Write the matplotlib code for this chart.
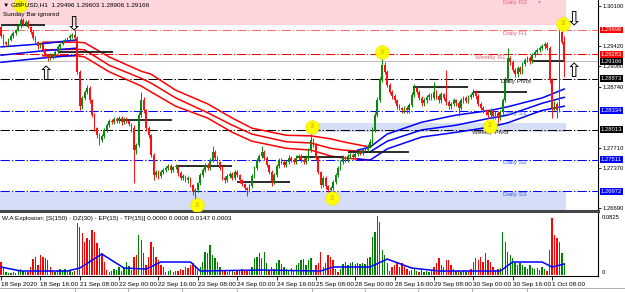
import matplotlib
matplotlib.use("Agg")
import matplotlib.pyplot as plt
from matplotlib.lines import Line2D

plt.rcParams['font.family'] = ['Liberation Sans', 'DejaVu Sans']

PIP = 1e-4

# GBPUSD H1 candles, prices in pips (12959 -> 1.2959); open of each bar = previous close
first_open = 12975
closes = [
    12959, 12949, 12946, 12953, 12959, 12964, 12969, 12976, 12986, 12980,
    12983, 12975, 12966, 12956, 12949, 12942, 12946, 12936, 12926, 12922,
    12927, 12924, 12932, 12941, 12946, 12949, 12953, 12956, 12959, 12961,
    12956, 12899, 12841, 12855, 12865, 12872, 12851, 12826, 12804, 12792,
    12784, 12791, 12801, 12809, 12816, 12814, 12819, 12816, 12821, 12814,
    12819, 12816, 12811, 12804, 12767, 12776, 12826, 12851, 12834, 12804,
    12792, 12759, 12725, 12730, 12723, 12730, 12733, 12737, 12740, 12733,
    12738, 12740, 12728, 12720, 12723, 12716, 12720, 12708, 12696, 12700,
    12711, 12725, 12733, 12742, 12737, 12750, 12764, 12754, 12747, 12737,
    12720, 12716, 12723, 12727, 12720, 12730, 12725, 12716, 12710, 12703,
    12700, 12706, 12723, 12737, 12750, 12757, 12764, 12754, 12742, 12730,
    12713, 12725, 12740, 12750, 12747, 12742, 12747, 12754, 12750, 12747,
    12754, 12757, 12750, 12747, 12754, 12767, 12784, 12776, 12754, 12730,
    12708, 12720, 12706, 12700, 12703, 12713, 12725, 12737, 12747, 12754,
    12750, 12757, 12759, 12755, 12760, 12764, 12762, 12767, 12767, 12774,
    12781, 12801, 12826, 12851, 12885, 12910, 12899, 12877, 12865, 12858,
    12851, 12841, 12838, 12834, 12838, 12834, 12843, 12860, 12872, 12865,
    12855, 12846, 12851, 12856, 12860, 12855, 12865, 12858, 12851, 12861,
    12855, 12848, 12841, 12845, 12851, 12846, 12838, 12851, 12855, 12850,
    12856, 12860, 12865, 12858, 12845, 12838, 12834, 12831, 12826, 12834,
    12824, 12830, 12821, 12831, 12851, 12885, 12922, 12915, 12902, 12895,
    12905, 12899, 12912, 12919, 12922, 12917, 12927, 12932, 12936, 12939,
    12942, 12946, 12939, 12885, 12838, 12845, 12834, 12966, 12950, 12917,
]
upper_wick = [
    5, 3, 2, 3, 4, 3, 3, 4, 4, 3,  3, 4, 2, 3, 3, 2, 4, 2, 3, 2,
    3, 2, 3, 3, 2, 3, 3, 2, 3, 4,  8, 4, 3, 4, 3, 5, 3, 2, 3, 2,
    3, 3, 4, 3, 3, 4, 3, 3, 4, 3,  3, 3, 3, 2, 5, 3, 6, 14, 5, 3,
    3, 2, 3, 3, 3, 4, 3, 3, 3, 3,  3, 3, 2, 3, 3, 2, 3, 2, 2, 3,
    3, 3, 4, 3, 4, 3, 10, 4, 3, 2,  3, 3, 3, 3, 3, 4, 3, 2, 3, 2,
    2, 3, 3, 4, 3, 4, 10, 3, 3, 2,  3, 4, 4, 3, 4, 3, 3, 4, 3, 3,
    4, 3, 3, 3, 4, 4, 20, 4, 3, 2,  2, 3, 3, 2, 3, 3, 4, 3, 3, 4,
    3, 3, 3, 3, 4, 3, 3, 4, 3, 4,  4, 5, 5, 6, 5, 12, 5, 3, 3, 4,
    3, 3, 3, 2, 3, 3, 4, 5, 6, 3,  3, 3, 4, 4, 3, 3, 17, 3, 3, 4,
    3, 47, 4, 3, 4, 3, 3, 4, 3, 3,  4, 4, 5, 3, 3, 3, 3, 3, 3, 4,
    3, 3, 3, 4, 4, 5, 17, 4, 4, 3,  4, 3, 4, 4, 4, 3, 4, 3, 4, 4,
    4, 3, 4, 3, 3, 4, 3, 6, 4, 10,
]
lower_wick = [
    3, 4, 3, 3, 2, 3, 3, 2, 3, 3,  3, 2, 3, 3, 3, 4, 3, 4, 3, 5,
    3, 3, 2, 3, 3, 2, 2, 3, 3, 3,  3, 4, 7, 5, 4, 3, 4, 4, 4, 4,
    8, 3, 3, 3, 3, 3, 3, 3, 3, 4,  3, 3, 3, 6, 56, 6, 4, 3, 4, 4,
    4, 4, 9, 4, 4, 3, 3, 3, 3, 4,  3, 3, 4, 3, 4, 3, 4, 4, 4, 13,
    3, 3, 3, 3, 3, 3, 3, 4, 4, 3,  4, 4, 3, 3, 4, 3, 3, 4, 4, 4,
    10, 4, 3, 3, 3, 3, 3, 4, 4, 4,  7, 3, 3, 3, 3, 4, 3, 3, 3, 4,
    3, 3, 3, 3, 3, 3, 3, 4, 4, 4,  5, 4, 4, 4, 10, 3, 3, 3, 3, 3,
    3, 3, 4, 3, 3, 3, 3, 3, 3, 3,  3, 3, 3, 3, 3, 3, 4, 4, 4, 5,
    4, 4, 4, 4, 4, 4, 4, 3, 3, 4,  4, 4, 4, 4, 4, 3, 4, 4, 5, 4,
    4, 5, 5, 4, 4, 4, 14, 3, 4, 4,  4, 3, 3, 4, 4, 4, 5, 4, 5, 4,
    5, 4, 8, 4, 3, 3, 4, 4, 4, 5,  4, 4, 3, 3, 3, 4, 3, 3, 3, 3,
    3, 4, 4, 5, 17, 5, 13, 3, 4, 26,
]

# moving-average band, read at a few bars (pips)
red_bars = [17, 31, 34, 44, 57, 61, 71, 84, 94, 102, 116, 126, 134, 139, 150]
red_upper = [12949, 12949, 12948, 12924, 12900, 12895, 12868, 12845, 12821, 12804, 12792, 12791, 12786, 12781, 12772]
red_mid = [12936, 12937, 12936, 12910, 12888, 12880, 12855, 12830, 12809, 12794, 12781, 12779, 12770, 12767, 12764]
red_lower = [12926, 12926, 12924, 12899, 12875, 12865, 12841, 12821, 12797, 12782, 12770, 12767, 12757, 12754, 12750]

blue1_bars = [0, 16, 31]
blue1_upper = [12941, 12946, 12953]
blue1_mid = [12927, 12934, 12939]
blue1_lower = [12915, 12922, 12927]

blue2_bars = [145, 150, 157, 171, 185, 199, 206, 220, 229]
blue2_upper = [12767, 12772, 12794, 12814, 12826, 12834, 12840, 12855, 12870]
blue2_mid = [12762, 12764, 12782, 12801, 12809, 12821, 12826, 12846, 12856]
blue2_lower = [12752, 12750, 12769, 12789, 12797, 12806, 12813, 12834, 12841]

# daily range lines
seg_start = [0, 23, 47.5, 71.5, 96, 120, 141, 167.5, 192, 216]
seg_end = [18, 45.5, 69.5, 94, 117.5, 139, 166, 190, 214, 229]
seg_price = [12978, 12932, 12818, 12740, 12713, 12755, 12764, 12874, 12865, 12917]

# pivot levels
pivot_names = ['Daily R1', 'Weekly R1', 'Daily Pivot', 'Daily S1', 'Weekly Pivot', 'Daily S2', 'Daily S3']
pivot_levels = [1.29696, 1.29283, 1.28873, 1.28334, 1.28013, 1.27511, 1.26972]
current_price = 1.29166

# zones: start bar, end bar, top, bottom (pips)
zone_start = [-1, 127, -1]
zone_end = [229.5, 229.5, 229.5]
zone_top = [13030, 12813, 12696]
zone_bottom = [12978, 12797, 12655]

# yellow signal markers
mark_bars = [7.7, 79.7, 126.4, 134.6, 154.9, 198.8, 228.5]
mark_prices = [13012, 12674, 12806, 12686, 12932, 12808, 12980]
mark_text = ['3', '3', '3', '3', '3', '2', '3']

# hollow arrows
arrow_bars = [29.7, 18.3, 233.0, 233.0]
arrow_prices = [12978, 12895, 12986, 12899]
arrow_up = [False, True, False, True]

# W.A Explosion histogram (units of 0.0001) and colours
explosion = [
    185, 114, 43, 28, 28, 43, 28, 57, 85, 57,  43, 43, 114, 227, 256, 142, 284, 256, 241, 213,
    114, 71, 43, 71, 85, 71, 85, 57, 71, 43,  57, 738, 682, 596, 469, 525, 497, 639, 611, 454,
    383, 312, 185, 71, 43, 57, 85, 71, 114, 57,  99, 185, 128, 71, 256, 284, 568, 497, 312, 142,
    256, 469, 398, 256, 213, 142, 114, 43, 57, 71,  43, 57, 57, 85, 71, 114, 99, 142, 170, 128,
    71, 114, 185, 327, 312, 426, 284, 241, 185, 114,  71, 57, 43, 57, 71, 43, 71, 57, 85, 71,
    57, 57, 114, 241, 256, 312, 241, 327, 170, 71,  114, 85, 170, 213, 156, 114, 85, 71, 99, 57,
    142, 170, 213, 227, 142, 213, 241, 71, 142, 170,  327, 114, 170, 284, 256, 213, 85, 43, 85, 156,
    185, 142, 170, 185, 156, 170, 156, 170, 156, 241,  256, 540, 611, 838, 753, 355, 284, 170, 57, 114,
    142, 185, 114, 170, 128, 85, 57, 71, 99, 57,  43, 71, 43, 57, 43, 57, 114, 170, 241, 142,
    114, 213, 213, 142, 85, 57, 71, 43, 71, 43,  57, 85, 185, 241, 213, 256, 185, 312, 213, 185,
    114, 71, 85, 99, 611, 469, 327, 284, 241, 170,  142, 170, 142, 114, 85, 142, 99, 85, 99, 71,
    114, 85, 57, 355, 809, 568, 525, 469, 312, 170,
]
explosion_dir = (
    "rrgggggggg" "grrrrrrrrr" "rrgggggggg" "rrrrrrrrrr" "rrrrgggggg"
    "gggrrrgggr" "rrrrrrrggg" "ggrrrrrrrr" "rggggggggg" "rrgggrrrrr"
    "rggggggggr" "rggggggggg" "gggggggrrr" "rrrrrrrrgg" "gggggggggg"
    "gggggggggr" "rrrrrrrggg" "rrgggrrrrr" "rrrrrgrggg" "rrrrrrrrrr"
    "rgrggggggg" "gggggggggg" "ggrrrrrggg"
)
dead_zone_bars = [0, 8, 27, 32, 41, 50, 59, 65, 77, 81, 105, 130, 135, 150, 157, 167, 178, 203, 208, 220, 224, 229]
dead_zone = [114, 57, 57, 99, 298, 99, 85, 185, 185, 57, 71, 57, 114, 114, 227, 99, 57, 57, 185, 185, 114, 156]

x_labels = ['18 Sep 2020', '18 Sep 16:00', '21 Sep 08:00', '22 Sep 00:00', '22 Sep 16:00',
            '23 Sep 08:00', '24 Sep 00:00', '24 Sep 16:00', '25 Sep 08:00', '28 Sep 00:00',
            '28 Sep 16:00', '29 Sep 08:00', '30 Sep 00:00', '30 Sep 16:00', '1 Oct 08:00']
price_ticks = [1.30100, 1.29420, 1.29080, 1.28740, 1.27710, 1.27370, 1.26690]

W, H = 625, 292
FS = 4.6
FS_AX = 4.2
fig = plt.figure(figsize=(W / 100, H / 100), dpi=100)
ax = fig.add_axes([0, 1 - 211 / H, 598 / W, 211 / H])
sub = fig.add_axes([0, 1 - 276 / H, 598 / W, 63 / H])
XLIM = (-0.41, 242.7)

# zones
for x0, x1, t, b, c in zip(zone_start, zone_end, zone_top, zone_bottom, ['#fdd6db', '#d6ddf6', '#d6ddf6']):
    ax.fill_between([x0, x1], t * PIP, b * PIP, color=c, lw=0, zorder=0)

# pivot lines
dash = (0, (9, 2, 1.2, 2))
line_cols = ['#ff6a6a', '#ff0000', 'black', '#0000ff', 'black', '#0000ff', '#0000ff']
text_cols = ['#f0607a', '#f0607a', '#202020', '#3a5aff', '#202020', '#3a5aff', '#3a5aff']
label_x = [204, 192.5, 203.3, 204, 191.5, 204, 204]
for name, lev, lc, tc, lx in zip(pivot_names, pivot_levels, line_cols, text_cols, label_x):
    ax.axhline(lev, color=lc, lw=0.75, ls=dash, zorder=1)
    ax.text(lx, lev - 0.00012, name, color=tc, fontsize=FS, va='top', ha='left', zorder=6)
ax.text(204, 1.30205, 'Daily R2', color='#f0607a', fontsize=FS, va='top', ha='left')
ax.text(217.5, 1.30205, '\u25bc', color='#a0a0a0', fontsize=3.5, va='top', ha='left')
ax.axhline(current_price, color='#c0c0c0', lw=0.8, zorder=1)

# MA bands
for bars, lines, col in [(red_bars, (red_upper, red_mid, red_lower), '#ff0000'),
                         (blue1_bars, (blue1_upper, blue1_mid, blue1_lower), '#0000ff'),
                         (blue2_bars, (blue2_upper, blue2_mid, blue2_lower), '#0000ff')]:
    for vals in lines:
        ax.plot(bars, [v * PIP for v in vals], color=col, lw=1.1, zorder=3)

# daily range lines
ax.hlines([p * PIP for p in seg_price], seg_start, seg_end, color='#1a1a1a', lw=1.3, zorder=4)

# candles
opens = [first_open] + closes[:-1]
xs = list(range(len(closes)))
cols = ['#0a8a0a' if c >= o else '#ff1010' for o, c in zip(opens, closes)]
highs = [(max(o, c) + u) * PIP for o, c, u in zip(opens, closes, upper_wick)]
lows = [(min(o, c) - d) * PIP for o, c, d in zip(opens, closes, lower_wick)]
ax.vlines(xs, lows, highs, colors=cols, lw=0.7, zorder=5)
ax.bar(xs, [max(abs(c - o), 0.6) * PIP for o, c in zip(opens, closes)],
       bottom=[min(o, c) * PIP for o, c in zip(opens, closes)],
       width=0.7, color=cols, lw=0, zorder=5)

# yellow markers
ax.scatter(mark_bars, [p * PIP for p in mark_prices], s=95, color='#ffff00', edgecolor='#f0e000', lw=0.5, zorder=7)
for bx, p, t in zip(mark_bars, mark_prices, mark_text):
    ax.text(bx, p * PIP, t, color='#d8c000', fontsize=5.5, fontweight='bold', ha='center', va='center', zorder=8)

# arrows
for bx, p, up in zip(arrow_bars, arrow_prices, arrow_up):
    ax.text(bx, p * PIP, '\u21e7' if up else '\u21e9', fontsize=14, ha='center', va='center',
            family='DejaVu Sans', color='black', zorder=8)

ax.set_xlim(*XLIM)
ax.set_ylim(1.26643, 1.30201)
for s in ['left', 'top']:
    ax.spines[s].set_visible(False)
ax.spines['right'].set_linewidth(0.8)
ax.spines['bottom'].set_color('#454545')
ax.spines['bottom'].set_linewidth(2.2)
ax.set_xticks([])
ax.yaxis.tick_right()
ax.set_yticks(price_ticks)
ax.set_yticklabels([f'{p:.5f}' for p in price_ticks])
ax.tick_params(axis='y', labelsize=FS_AX, length=2, width=0.6, pad=1)

# coloured price boxes
box_levels = pivot_levels + [current_price]
box_cols = ['#ff0000', '#ff0000', 'black', '#0000ff', 'black', '#0000ff', '#0000ff', 'black']
for lev, bc in zip(box_levels, box_cols):
    ax.text(1.0045, lev, f'{lev:.5f}', transform=ax.get_yaxis_transform(), color='white', fontsize=FS_AX,
            va='center', ha='left', clip_on=False, zorder=10,
            bbox=dict(boxstyle='square,pad=0.15', fc=bc, ec='none'))

fig.text(3 / W, 1 - 5 / H, '\u25bc GBPUSD,H1  1.29496 1.29603 1.28906 1.29166', fontsize=FS, va='center')
fig.text(3 / W, 1 - 14.5 / H, 'Sunday Bar ignored', fontsize=FS, va='center')

# W.A Explosion panel
sub.bar(xs, [v * PIP for v in explosion], width=0.55,
        color=['#ff0000' if d == 'r' else '#008000' for d in explosion_dir], lw=0)
sub.plot(dead_zone_bars, [v * PIP for v in dead_zone], color='#0000ff', lw=1.1)
sub.set_xlim(*XLIM)
sub.set_ylim(-0.0014, 0.0882)
for s in ['left', 'top']:
    sub.spines[s].set_visible(False)
sub.spines['right'].set_linewidth(0.8)
sub.spines['bottom'].set_linewidth(0.8)
sub.set_yticks([])
sub.text(1.006, 0.0825, '0.0825', transform=sub.get_yaxis_transform(), fontsize=FS_AX, va='center', clip_on=False)
sub.text(1.006, 0.0, '0', transform=sub.get_yaxis_transform(), fontsize=FS_AX, va='bottom', clip_on=False)
sub.set_xticks([16 * k for k in range(len(x_labels))])
sub.set_xticklabels(x_labels, ha='left')
sub.tick_params(axis='x', labelsize=FS, length=3, width=0.6, pad=1)
fig.text(2 / W, 1 - 218.5 / H, 'W.A Explosion: [S(150) - DZ(30) - EP(15) - TP(15)] 0.0000 0.0008 0.0147 0.0003',
         fontsize=FS, va='center')

# tab strip at the bottom
fig.add_artist(Line2D([0, 1], [1 - 287.5 / H] * 2, color='#a0a0a0', lw=0.6))
for tx in [75, 128, 182, 237, 312, 365, 418, 472, 527]:
    fig.add_artist(Line2D([tx / W] * 2, [0, 1 - 287.5 / H], color='#a0a0a0', lw=0.6))

fig.savefig('out.png', dpi=100)
